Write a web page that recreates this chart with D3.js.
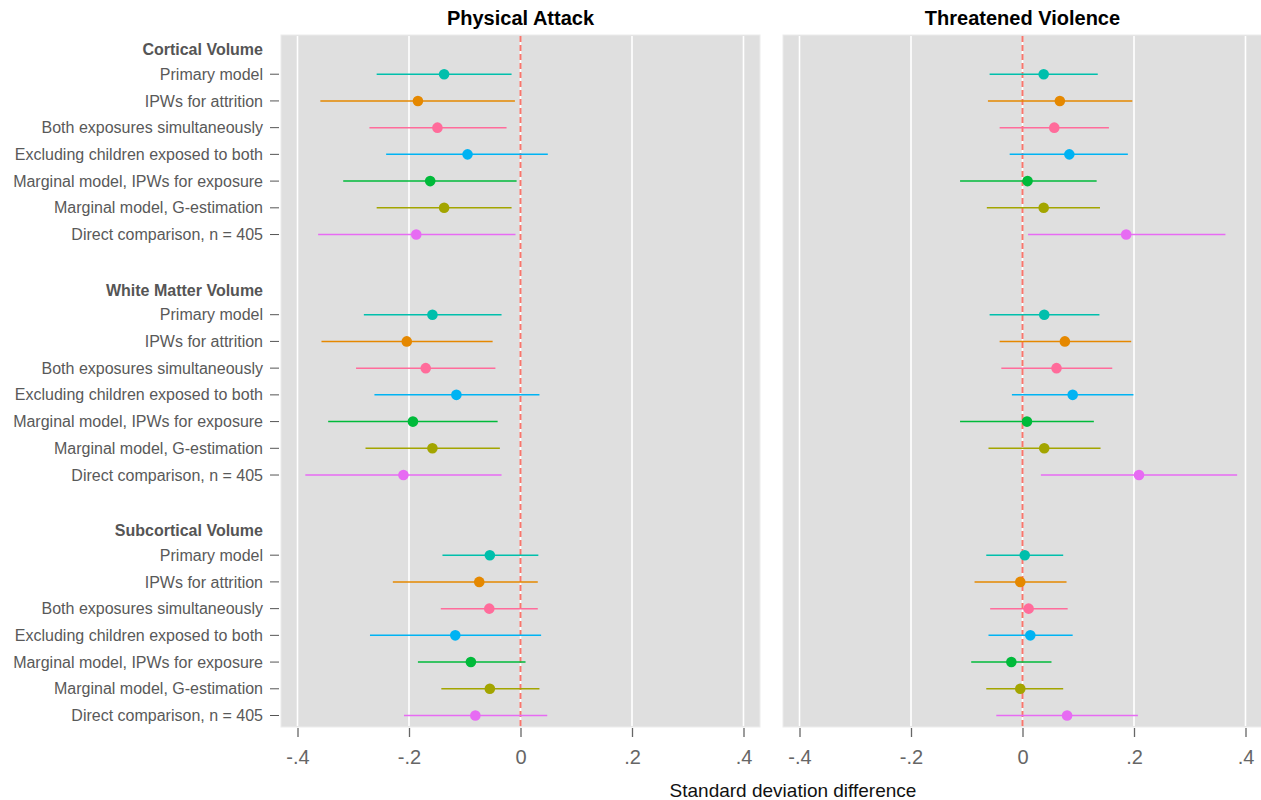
<!DOCTYPE html>
<html>
<head>
<meta charset="utf-8">
<script src="https://cdn.jsdelivr.net/npm/d3@7"></script>
<style>
  body { margin: 0; background: #fff; }
  text { font-family: "Liberation Sans", Arial, Helvetica, sans-serif; }
</style>
</head>
<body>
<div id="chart"></div>
<script>
// ---- data ----
var panels = ["Physical Attack", "Threatened Violence"];
var groups = ["Cortical Volume", "White Matter Volume", "Subcortical Volume"];
var models = ["Primary model", "IPWs for attrition", "Both exposures simultaneously",
              "Excluding children exposed to both", "Marginal model, IPWs for exposure",
              "Marginal model, G-estimation", "Direct comparison, n = 405"];
var xTicks = [-0.4, -0.2, 0, 0.2, 0.4];
var xTickLabels = ["-.4", "-.2", "0", ".2", ".4"];

// each row: [estimate, lower, upper], in model order
var paCortical = [[-0.137, -0.258, -0.016], [-0.184, -0.359, -0.010], [-0.149, -0.271, -0.025],
                  [-0.095, -0.241, 0.049], [-0.162, -0.318, -0.007], [-0.137, -0.258, -0.016],
                  [-0.187, -0.363, -0.009]];
var paWhite = [[-0.158, -0.281, -0.034], [-0.204, -0.357, -0.050], [-0.170, -0.295, -0.045],
               [-0.115, -0.262, 0.034], [-0.193, -0.345, -0.041], [-0.158, -0.278, -0.037],
               [-0.210, -0.386, -0.034]];
var paSubcortical = [[-0.055, -0.140, 0.032], [-0.074, -0.229, 0.031], [-0.056, -0.143, 0.031],
                     [-0.117, -0.270, 0.037], [-0.089, -0.184, 0.009], [-0.055, -0.142, 0.034],
                     [-0.081, -0.209, 0.048]];
var tvCortical = [[0.038, -0.059, 0.135], [0.067, -0.062, 0.197], [0.057, -0.041, 0.155],
                  [0.084, -0.023, 0.189], [0.009, -0.112, 0.133], [0.038, -0.064, 0.139],
                  [0.186, 0.010, 0.364]];
var tvWhite = [[0.039, -0.059, 0.138], [0.076, -0.041, 0.195], [0.061, -0.038, 0.161],
               [0.090, -0.019, 0.199], [0.008, -0.112, 0.128], [0.039, -0.061, 0.140],
               [0.209, 0.033, 0.385]];
var tvSubcortical = [[0.004, -0.065, 0.073], [-0.004, -0.086, 0.079], [0.011, -0.058, 0.081],
                     [0.014, -0.061, 0.090], [-0.020, -0.092, 0.052], [-0.004, -0.065, 0.073],
                     [0.080, -0.047, 0.207]];

var panelData = [[paCortical, paWhite, paSubcortical], [tvCortical, tvWhite, tvSubcortical]];
var palette = ["#00bfac", "#e58800", "#ff6c9b", "#00b3f3", "#00ba3a", "#a3a500", "#e76bf3"];

// ---- layout ----
var width = 1261, height = 800;
var panelLeft = [281, 783], panelW = 479;
var plotTop = 35, plotBottom = 727;

var svg = d3.select("#chart").append("svg")
    .attr("width", width).attr("height", height);

// y positions: header, 7 models, spacer, ...
var rowKeys = [];
groups.forEach(function(g, gi) {
  rowKeys.push(g);
  models.forEach(function(m) { rowKeys.push(g + "|" + m); });
  if (gi < groups.length - 1) rowKeys.push("gap" + gi);
});
var y = d3.scalePoint().domain(rowKeys).range([plotTop + 1, plotBottom]).padding(0.43);

// y labels
var ylab = svg.append("g");
groups.forEach(function(g) {
  ylab.append("text")
      .attr("x", 263).attr("y", y(g) + 2).attr("dy", "0.35em")
      .attr("text-anchor", "end")
      .style("font-size", "16px").style("font-weight", "bold").style("fill", "#555")
      .text(g);
  models.forEach(function(m) {
    var yy = y(g + "|" + m);
    ylab.append("text")
        .attr("x", 263).attr("y", yy).attr("dy", "0.35em")
        .attr("text-anchor", "end")
        .style("font-size", "16px").style("fill", "#595959")
        .text(m);
    ylab.append("line")
        .attr("x1", 270).attr("x2", 279).attr("y1", yy).attr("y2", yy)
        .style("stroke", "#555").style("stroke-width", 1);
  });
});

panels.forEach(function(p, pi) {
  var x = d3.scaleLinear().domain([-0.4296, 0.4296])
      .range([panelLeft[pi], panelLeft[pi] + panelW]);
  var g = svg.append("g");

  g.append("rect")
      .attr("x", panelLeft[pi]).attr("y", plotTop)
      .attr("width", panelW).attr("height", plotBottom - plotTop)
      .style("fill", "#dfdfdf").style("stroke", "#ececec").style("stroke-width", 1);

  g.selectAll(".grid").data(xTicks).enter().append("line")
      .attr("x1", function(d) { return x(d); }).attr("x2", function(d) { return x(d); })
      .attr("y1", plotTop + 1).attr("y2", plotBottom - 1)
      .style("stroke", "#fff").style("stroke-width", 1.6);

  g.append("line")
      .attr("x1", x(0)).attr("x2", x(0)).attr("y1", plotTop + 1).attr("y2", plotBottom)
      .style("stroke", "#f8766d").style("stroke-width", 2)
      .style("stroke-dasharray", "6,3");

  // axis
  var axis = d3.axisBottom(x).tickValues(xTicks)
      .tickFormat(function(d, i) { return xTickLabels[i]; })
      .tickSize(9).tickPadding(13);
  var ax = g.append("g").attr("transform", "translate(0," + (plotBottom + 1) + ")").call(axis);
  ax.select(".domain").remove();
  ax.selectAll(".tick line").style("stroke", "#666").style("stroke-width", 1.3);
  ax.selectAll(".tick text").style("font-size", "20px").style("fill", "#666")
      .style("font-family", "Liberation Sans, Arial, sans-serif");

  // title
  svg.append("text")
      .attr("x", panelLeft[pi] + panelW / 2).attr("y", 25)
      .attr("text-anchor", "middle")
      .style("font-size", "20px").style("font-weight", "bold").style("fill", "#000")
      .text(p);

  groups.forEach(function(grp, gi) {
    var rows = panelData[pi][gi];
    var sel = g.selectAll(".r" + gi).data(rows).enter();
    sel.append("line")
        .attr("x1", function(d) { return x(d[1]); })
        .attr("x2", function(d) { return x(d[2]); })
        .attr("y1", function(d, i) { return y(grp + "|" + models[i]); })
        .attr("y2", function(d, i) { return y(grp + "|" + models[i]); })
        .style("stroke", function(d, i) { return palette[i]; })
        .style("stroke-width", 1.5);
    sel.append("circle")
        .attr("cx", function(d) { return x(d[0]); })
        .attr("cy", function(d, i) { return y(grp + "|" + models[i]); })
        .attr("r", 5.3)
        .style("fill", function(d, i) { return palette[i]; });
  });
});

svg.append("text")
    .attr("x", 793).attr("y", 797)
    .attr("text-anchor", "middle")
    .style("font-size", "19px").style("fill", "#111")
    .text("Standard deviation difference");
</script>
</body>
</html>
